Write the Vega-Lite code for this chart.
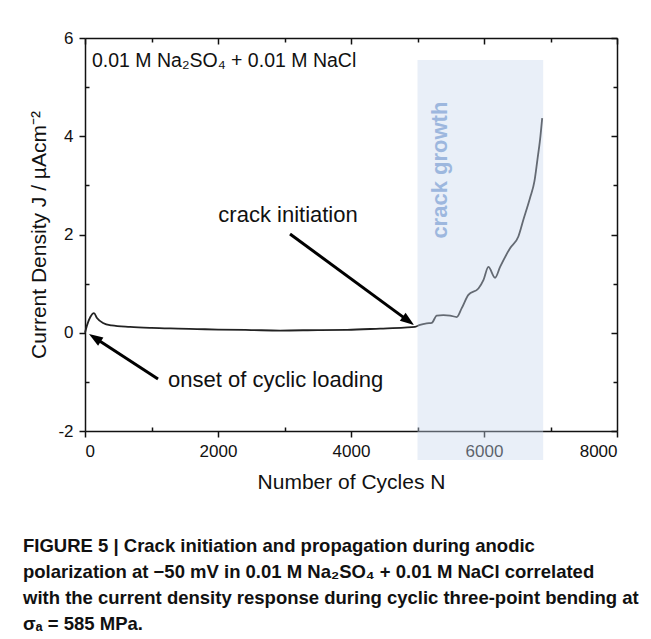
{
  "$schema": "https://vega.github.io/schema/vega-lite/v6.json",
  "width": 532,
  "height": 393,
  "autosize": {"type": "none"},
  "padding": {"left": 85, "top": 38, "right": 34, "bottom": 208},
  "background": "white",
  "config": {
    "font": "Liberation Sans",
    "view": {"stroke": null},
    "axis": {"grid": false, "domainColor": "#111", "tickColor": "#111", "labelColor": "#111", "titleColor": "#111", "domainWidth": 1.5, "tickWidth": 1.5, "labelFont": "Liberation Sans", "titleFont": "Liberation Sans", "titleFontWeight": "normal"}
  },
  "title": {
    "text": [
      "FIGURE 5 | Crack initiation and propagation during anodic",
      "polarization at −50 mV in 0.01 M Na₂SO₄ + 0.01 M NaCl correlated",
      "with the current density response during cyclic three-point bending at",
      "σₐ = 585 MPa."
    ],
    "orient": "bottom",
    "anchor": "start",
    "frame": "group",
    "font": "Liberation Sans",
    "fontSize": 18.5,
    "fontWeight": "bold",
    "color": "#111",
    "lineHeight": 26,
    "dx": -62,
    "offset": 45
  },
  "datasets": {
    "curve": [
      {"N": 0, "J": 0.0}, {"N": 30, "J": 0.15}, {"N": 80, "J": 0.32}, {"N": 135, "J": 0.4},
      {"N": 180, "J": 0.3}, {"N": 270, "J": 0.2}, {"N": 400, "J": 0.15}, {"N": 677, "J": 0.12},
      {"N": 1000, "J": 0.1}, {"N": 1400, "J": 0.085}, {"N": 1685, "J": 0.075}, {"N": 2000, "J": 0.065},
      {"N": 2500, "J": 0.055}, {"N": 2933, "J": 0.045}, {"N": 3500, "J": 0.055}, {"N": 3940, "J": 0.06},
      {"N": 4437, "J": 0.085}, {"N": 4800, "J": 0.105}, {"N": 4963, "J": 0.12}, {"N": 5038, "J": 0.16},
      {"N": 5138, "J": 0.19}, {"N": 5214, "J": 0.2}, {"N": 5289, "J": 0.35}, {"N": 5389, "J": 0.36},
      {"N": 5490, "J": 0.35}, {"N": 5590, "J": 0.32}, {"N": 5665, "J": 0.5}, {"N": 5765, "J": 0.77},
      {"N": 5916, "J": 0.9}, {"N": 5991, "J": 1.07}, {"N": 6066, "J": 1.34}, {"N": 6166, "J": 1.12},
      {"N": 6242, "J": 1.34}, {"N": 6392, "J": 1.72}, {"N": 6517, "J": 1.96}, {"N": 6592, "J": 2.3},
      {"N": 6693, "J": 2.75}, {"N": 6758, "J": 3.08}, {"N": 6803, "J": 3.52}, {"N": 6843, "J": 3.93},
      {"N": 6875, "J": 4.37}
    ],
    "arrows": [
      {"arrow": "init", "N": 3083, "J": 2.01}, {"arrow": "init", "N": 4826, "J": 0.278},
      {"arrow": "onset", "N": 1098, "J": -0.94}, {"arrow": "onset", "N": 186, "J": -0.137}
    ],
    "tips": [
      {"arrow": "init", "N": 4948, "J": 0.158},
      {"arrow": "onset", "N": 60, "J": -0.025}
    ],
    "labels": [
      {"kind": "init", "N": 3053, "J": 2.4, "text": "crack initiation"},
      {"kind": "onset", "N": 1248, "J": -0.96, "text": "onset of cyclic loading"},
      {"kind": "solution", "N": 105, "J": 5.53, "text": "0.01 M Na₂SO₄ + 0.01 M NaCl"}
    ],
    "band": [{"start": 5000, "end": 6890, "top": 5.55, "bottom": -2.59}],
    "bandlabel": [{"N": 5338, "J": 3.31, "text": "crack growth"}]
  },
  "resolve": {"axis": {"x": "independent", "y": "independent"}},
  "layer": [
    {
      "data": {"name": "curve"},
      "mark": {"type": "line", "color": "#222", "strokeWidth": 1.8, "interpolate": "monotone"},
      "encoding": {
        "x": {"field": "N", "type": "quantitative",
              "scale": {"domain": [0, 8000], "nice": false, "zero": false},
              "axis": {"orient": "bottom", "values": [0, 1000, 2000, 3000, 4000, 5000, 6000, 7000, 8000],
                       "format": "d", "labelExpr": "datum.value % 2000 === 0 ? datum.label : ''",
                       "tickSize": {"condition": {"test": "datum.value % 2000 === 0", "value": 6}, "value": -4},
                       "labelFontSize": 17, "labelPadding": 6, "title": "Number of Cycles N", "titleFontSize": 21, "titlePadding": 12}},
        "y": {"field": "J", "type": "quantitative",
              "scale": {"domain": [-2, 6], "nice": false, "zero": false},
              "axis": {"orient": "left", "values": [-2, -1, 0, 1, 2, 3, 4, 5, 6],
                       "labelExpr": "datum.value % 2 === 0 ? replace(datum.label, '−', '-') : ''",
                       "tickSize": {"condition": {"test": "datum.value % 2 === 0", "value": 6}, "value": -4},
                       "labelFontSize": 17, "labelPadding": 6, "title": "Current Density J / µAcm⁻²", "titleFontSize": 21, "titlePadding": 8}}
      }
    },
    {
      "data": {"name": "arrows"},
      "mark": {"type": "line", "color": "#000", "strokeWidth": 3},
      "encoding": {
        "x": {"field": "N", "type": "quantitative", "axis": null},
        "y": {"field": "J", "type": "quantitative", "axis": null},
        "detail": {"field": "arrow"}
      }
    },
    {
      "data": {"name": "tips"},
      "transform": [{"filter": "datum.arrow === 'init'"}],
      "mark": {"type": "point", "shape": "M0,0L-0.7,2L0.7,2Z", "filled": true, "color": "#000", "opacity": 1, "size": 196, "angle": 126},
      "encoding": {
        "x": {"field": "N", "type": "quantitative", "axis": null},
        "y": {"field": "J", "type": "quantitative", "axis": null}
      }
    },
    {
      "data": {"name": "tips"},
      "transform": [{"filter": "datum.arrow === 'onset'"}],
      "mark": {"type": "point", "shape": "M0,0L-0.7,2L0.7,2Z", "filled": true, "color": "#000", "opacity": 1, "size": 196, "angle": 303},
      "encoding": {
        "x": {"field": "N", "type": "quantitative", "axis": null},
        "y": {"field": "J", "type": "quantitative", "axis": null}
      }
    },
    {
      "data": {"name": "labels"},
      "transform": [{"filter": "datum.kind === 'init'"}],
      "mark": {"type": "text", "fontSize": 22, "align": "center", "baseline": "middle", "color": "#111"},
      "encoding": {
        "x": {"field": "N", "type": "quantitative", "axis": null},
        "y": {"field": "J", "type": "quantitative", "axis": null},
        "text": {"field": "text"}
      }
    },
    {
      "data": {"name": "labels"},
      "transform": [{"filter": "datum.kind === 'onset'"}],
      "mark": {"type": "text", "fontSize": 22, "align": "left", "baseline": "middle", "color": "#111"},
      "encoding": {
        "x": {"field": "N", "type": "quantitative", "axis": null},
        "y": {"field": "J", "type": "quantitative", "axis": null},
        "text": {"field": "text"}
      }
    },
    {
      "data": {"name": "labels"},
      "transform": [{"filter": "datum.kind === 'solution'"}],
      "mark": {"type": "text", "fontSize": 19.5, "align": "left", "baseline": "middle", "color": "#111"},
      "encoding": {
        "x": {"field": "N", "type": "quantitative", "axis": null},
        "y": {"field": "J", "type": "quantitative", "axis": null},
        "text": {"field": "text"}
      }
    },
    {
      "data": {"name": "band"},
      "mark": {"type": "rect", "color": "#c8d7ee", "opacity": 0.4, "clip": false},
      "encoding": {
        "x": {"field": "start", "type": "quantitative",
              "axis": {"orient": "top", "values": [0, 1000, 2000, 3000, 4000, 5000, 6000, 7000, 8000], "labels": false, "title": null,
                       "tickSize": {"condition": {"test": "datum.value % 2000 === 0", "value": -6}, "value": -4}}},
        "x2": {"field": "end"},
        "y": {"field": "top", "type": "quantitative",
              "axis": {"orient": "right", "values": [-2, -1, 0, 1, 2, 3, 4, 5, 6], "labels": false, "title": null,
                       "tickSize": {"condition": {"test": "datum.value % 2 === 0", "value": -6}, "value": -4}}},
        "y2": {"field": "bottom"}
      }
    },
    {
      "data": {"name": "bandlabel"},
      "mark": {"type": "text", "fontSize": 22, "fontWeight": "bold", "angle": 270, "align": "center", "baseline": "middle", "color": "#9db7de"},
      "encoding": {
        "x": {"field": "N", "type": "quantitative", "axis": null},
        "y": {"field": "J", "type": "quantitative", "axis": null},
        "text": {"field": "text"}
      }
    }
  ]
}
